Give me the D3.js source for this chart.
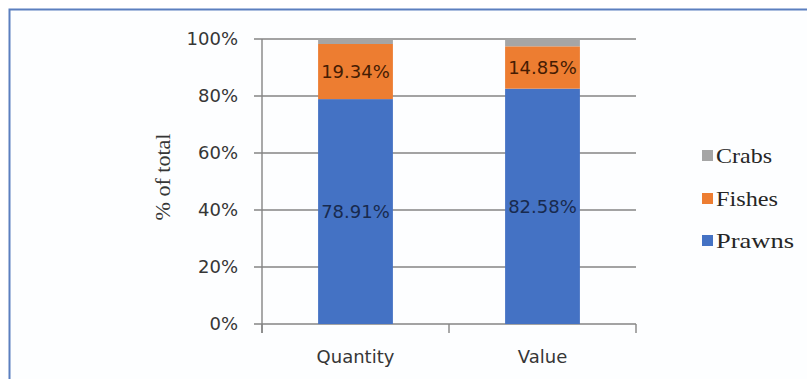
<!DOCTYPE html>
<html>
<head>
<meta charset="utf-8">
<script src="https://cdn.jsdelivr.net/npm/d3@7"></script>
<style>
  html, body { margin: 0; padding: 0; background: #fff; }
  svg { display: block; }
</style>
</head>
<body>
<div id="chart"></div>
<script>
// Share of catch by group, in percent of total
const categories = ["Quantity", "Value"];
const seriesNames = ["Prawns", "Fishes", "Crabs"];
const prawns = [78.91, 82.58];
const fishes = [19.34, 14.85];
const crabs  = [1.75, 2.57];
const yTicks = [0, 20, 40, 60, 80, 100];
const legendOrder = ["Crabs", "Fishes", "Prawns"];

const colors = { Prawns: "#4472C4", Fishes: "#ED7D31", Crabs: "#A5A5A5" };
const labelColors = { Prawns: "#182a4e", Fishes: "#451c03" };

const W = 807, H = 379;
const svg = d3.select("#chart").append("svg").attr("width", W).attr("height", H);

// outer frame (runs off the right and bottom edges)
svg.append("rect").attr("x", 9.5).attr("y", 9.5).attr("width", 900).attr("height", 500)
  .attr("fill", "#fdfeff").attr("stroke", "#5b7fbf").attr("stroke-width", 2);

const x0 = 262, x1 = 636, yTop = 39, yBot = 324;
const x = d3.scaleBand().domain(categories).range([x0, x1]).paddingInner(0.6).paddingOuter(0.3);
const y = d3.scaleLinear().domain([0, 100]).range([yBot, yTop]);

// gridlines
svg.append("g").selectAll("line").data(yTicks).join("line")
  .attr("x1", x0 - 8).attr("x2", x1).attr("y1", d => y(d)).attr("y2", d => y(d))
  .attr("stroke", "#858585").attr("stroke-width", 1.4);

// y axis labels
svg.append("g").selectAll("text").data(yTicks).join("text")
  .attr("x", 238).attr("y", d => y(d)).attr("dy", "0.36em")
  .attr("text-anchor", "end")
  .attr("font-family", "DejaVu Sans").attr("font-size", 18).attr("fill", "#363636")
  .text(d => d + "%");

// y axis line
svg.append("line").attr("x1", x0).attr("x2", x0).attr("y1", yTop).attr("y2", yBot + 9)
  .attr("stroke", "#858585").attr("stroke-width", 1.4);

// category ticks
const catEdges = [x0, (x0 + x1) / 2, x1];
svg.append("g").selectAll("line").data(catEdges).join("line")
  .attr("x1", d => d).attr("x2", d => d).attr("y1", yBot).attr("y2", yBot + 9)
  .attr("stroke", "#858585").attr("stroke-width", 1.4);

// stacked bars
const rows = categories.map((c, i) => ({ cat: c, Prawns: prawns[i], Fishes: fishes[i], Crabs: crabs[i] }));
const stack = d3.stack().keys(seriesNames)(rows);

stack.forEach(layer => {
  svg.append("g").selectAll("rect").data(layer).join("rect")
    .attr("x", d => x(d.data.cat)).attr("width", x.bandwidth())
    .attr("y", d => y(d[1])).attr("height", d => y(d[0]) - y(d[1]))
    .attr("fill", colors[layer.key]);
});

// value labels
stack.filter(l => l.key !== "Crabs").forEach(layer => {
  svg.append("g").selectAll("text").data(layer).join("text")
    .attr("x", d => x(d.data.cat) + x.bandwidth() / 2)
    .attr("y", d => y((d[0] + d[1]) / 2)).attr("dy", "0.36em")
    .attr("text-anchor", "middle")
    .attr("font-family", "DejaVu Sans").attr("font-size", 18)
    .attr("fill", labelColors[layer.key])
    .text(d => (d[1] - d[0]).toFixed(2) + "%");
});

// category labels
svg.append("g").selectAll("text").data(categories).join("text")
  .attr("x", d => x(d) + x.bandwidth() / 2).attr("y", 363)
  .attr("text-anchor", "middle")
  .attr("font-family", "DejaVu Sans").attr("font-size", 18).attr("fill", "#363636")
  .text(d => d);

// y axis title
svg.append("text")
  .attr("transform", "translate(170,177) rotate(-90)")
  .attr("text-anchor", "middle")
  .attr("font-family", "Liberation Serif").attr("font-size", 21).attr("fill", "#363636")
  .attr("textLength", 87).attr("lengthAdjust", "spacingAndGlyphs")
  .text("% of total");

// legend
const legendY = { Crabs: 155, Fishes: 198, Prawns: 240 };
const lg = svg.append("g");
legendOrder.forEach(k => {
  lg.append("rect").attr("x", 702).attr("y", legendY[k] - 5).attr("width", 11).attr("height", 11)
    .attr("fill", colors[k]);
  lg.append("text").attr("x", 716).attr("y", legendY[k]).attr("dy", "0.36em")
    .attr("font-family", "Liberation Serif").attr("font-size", 21).attr("fill", "#262626")
    .attr("textLength", { Crabs: 56, Fishes: 62, Prawns: 78 }[k]).attr("lengthAdjust", "spacingAndGlyphs")
    .text(k);
});
</script>
</body>
</html>
